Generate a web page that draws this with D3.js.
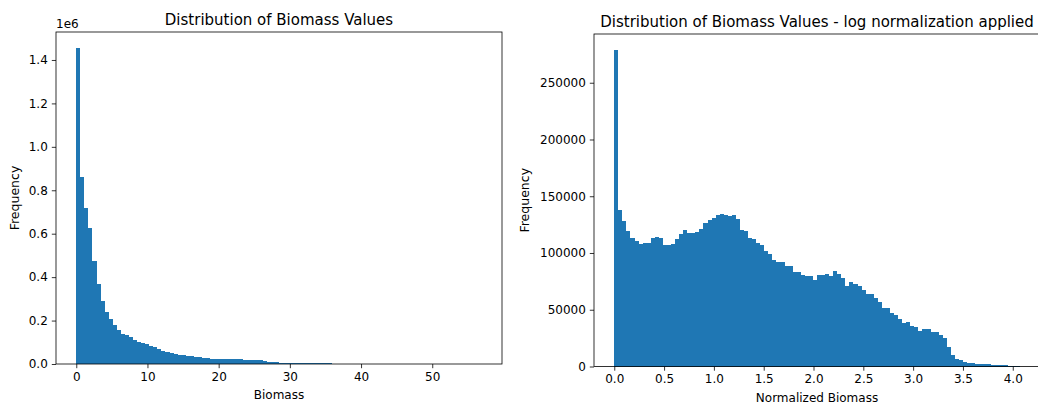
<!DOCTYPE html>
<html>
<head>
<meta charset="utf-8">
<script src="https://cdn.jsdelivr.net/npm/d3@7"></script>
<style>
	body { margin: 0; background: #fff; }
	svg text { font-family: "DejaVu Sans", sans-serif; fill: #000; }
	.tick text { font-size: 12px; }
	.bar { fill: #1f77b4; shape-rendering: crispEdges; }
</style>
</head>
<body>
<div id="chart"></div>
<script>
// raw biomass histogram, 100 bins between 0 and ~56.95
var biomassRange = [0, 56.95];
var biomassCounts = [
	1456000, 860000, 717000, 625000, 475000, 370000, 288000, 240000, 205000, 180000,
	158000, 140000, 133000, 124000, 112000, 100000, 95000, 90000, 83000, 77000,
	68000, 61000, 55000, 50000, 47000, 43000, 40000, 37000, 35000, 33000,
	30000, 28000, 26000, 25000, 24000, 23000, 23000, 22000, 22000, 22000,
	21000, 19000, 18000, 18000, 18000, 17000, 12000, 11000, 8000, 7000,
	4200, 4100, 4000, 4000, 3800, 3600, 3500, 3400, 3200, 3000,
	2800, 2600, 2400, 2200, 2000, 1200, 800, 600, 500, 400,
	300, 250, 200, 160, 130, 110, 90, 80, 70, 60,
	50, 40, 35, 30, 25, 20, 18, 15, 12, 10,
	9, 8, 7, 6, 5, 4, 3, 2, 2, 1
];

// log-normalized histogram, 100 bins between 0 and ~4.07
var normRange = [0, 4.07];
var normCounts = [
	279000, 137600, 127900, 119400, 112900, 110500, 107600, 109100, 109100, 113500,
	114400, 113500, 106700, 106700, 108200, 112000, 116700, 120000, 117300, 117900,
	118500, 121400, 126700, 128800, 130800, 133500, 134400, 133200, 132600, 133900,
	130200, 120000, 119100, 113500, 112300, 109100, 107300, 101700, 99400, 93500,
	92300, 92300, 88800, 88200, 83200, 83500, 80600, 80000, 79400, 76100,
	80300, 80300, 81700, 79400, 84100, 81700, 77900, 70600, 74400, 72900,
	71100, 67000, 63500, 63500, 60300, 57000, 51500, 51500, 47000, 45300,
	42000, 38200, 38800, 35600, 34700, 31200, 32900, 32900, 30600, 30600,
	27600, 24700, 16800, 9700, 6800, 5600, 4100, 3500, 3500, 2600,
	2600, 2000, 2000, 1200, 1200, 1100, 1000, 300, 200, 150
];

var leftXTicks = [0, 10, 20, 30, 40, 50];
var leftYTicks = [0, 200000, 400000, 600000, 800000, 1000000, 1200000, 1400000];
var rightXTicks = [0, 0.5, 1, 1.5, 2, 2.5, 3, 3.5, 4];
var rightYTicks = [0, 50000, 100000, 150000, 200000, 250000];

var svg = d3.select("#chart")
	.append("svg")
	.attr("width", 1038)
	.attr("height", 410);

function drawHist(opts) {
	var n = opts.counts.length;
	var span = opts.range[1] - opts.range[0];
	var binW = span / n;
	var bins = opts.counts.map(function (c, i) {
		return { x0: opts.range[0] + i * binW, x1: opts.range[0] + (i + 1) * binW, count: c };
	});

	var x = d3.scaleLinear()
		.domain([opts.range[0] - 0.05 * span, opts.range[1] + 0.05 * span])
		.range([opts.left, opts.right]);
	var y = d3.scaleLinear()
		.domain([0, d3.max(opts.counts) * 1.05])
		.range([opts.bottom, opts.top]);

	var g = svg.append("g");

	g.selectAll(".bar")
		.data(bins)
		.enter()
		.append("rect")
		.attr("class", "bar")
		.attr("x", function (d) { return x(d.x0); })
		.attr("width", function (d) { return x(d.x1) - x(d.x0); })
		.attr("y", function (d) { return y(d.count); })
		.attr("height", function (d) { return opts.bottom - y(d.count); });

	var xAxis = g.append("g")
		.attr("transform", "translate(0," + opts.bottom + ")")
		.call(d3.axisBottom(x).tickValues(opts.xTicks).tickSize(4.2).tickPadding(4).tickFormat(opts.xFormat));
	var yAxis = g.append("g")
		.attr("transform", "translate(" + opts.left + ",0)")
		.call(d3.axisLeft(y).tickValues(opts.yTicks).tickSize(4.2).tickPadding(4).tickFormat(opts.yFormat));

	[xAxis, yAxis].forEach(function (a) {
		a.select(".domain").remove();
		a.selectAll(".tick line").attr("stroke", "#000").attr("stroke-width", 0.8);
		a.selectAll(".tick text").attr("fill", "#000").style("font-family", "DejaVu Sans");
	});

	// frame
	g.append("rect")
		.attr("x", opts.left)
		.attr("y", opts.top)
		.attr("width", opts.right - opts.left)
		.attr("height", opts.bottom - opts.top)
		.attr("fill", "none")
		.attr("stroke", "#000")
		.attr("stroke-width", 0.8);

	g.append("text")
		.attr("x", (opts.left + opts.right) / 2)
		.attr("y", opts.top - 7.5)
		.attr("text-anchor", "middle")
		.style("font-size", "15px")
		.text(opts.title);

	g.append("text")
		.attr("x", (opts.left + opts.right) / 2)
		.attr("y", opts.bottom + 35)
		.attr("text-anchor", "middle")
		.style("font-size", "12px")
		.text(opts.xLabel);

	g.append("text")
		.attr("transform", "translate(" + opts.yLabelX + "," + (opts.top + opts.bottom) / 2 + ") rotate(-90)")
		.attr("text-anchor", "middle")
		.style("font-size", "12.5px")
		.text("Frequency");

	if (opts.offsetText) {
		g.append("text")
			.attr("x", opts.left)
			.attr("y", opts.top - 4)
			.style("font-size", "12px")
			.text(opts.offsetText);
	}
}

drawHist({
	counts: biomassCounts,
	range: biomassRange,
	left: 56, right: 502, top: 32, bottom: 364,
	xTicks: leftXTicks,
	yTicks: leftYTicks,
	xFormat: d3.format("d"),
	yFormat: function (d) { return (d / 1e6).toFixed(1); },
	title: "Distribution of Biomass Values",
	xLabel: "Biomass",
	yLabelX: 19,
	offsetText: "1e6"
});

drawHist({
	counts: normCounts,
	range: normRange,
	left: 594, right: 1040, top: 34, bottom: 366.5,
	xTicks: rightXTicks,
	yTicks: rightYTicks,
	xFormat: d3.format(".1f"),
	yFormat: d3.format("d"),
	title: "Distribution of Biomass Values - log normalization applied",
	xLabel: "Normalized Biomass",
	yLabelX: 529
});
</script>
</body>
</html>
